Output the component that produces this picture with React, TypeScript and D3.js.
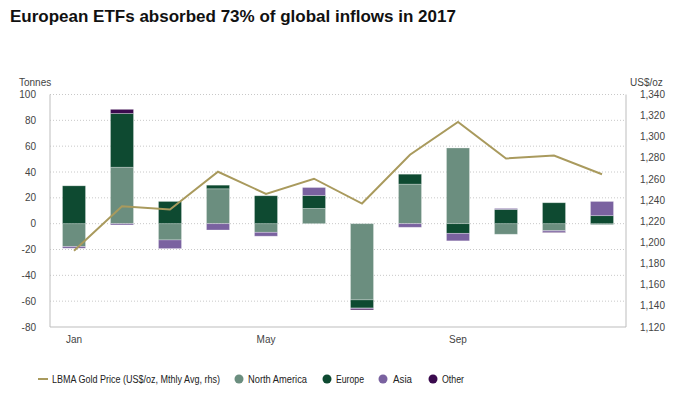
import React from "react";
import * as d3 from "d3";

const months = ["Jan", "Feb", "Mar", "Apr", "May", "Jun", "Jul", "Aug", "Sep", "Oct", "Nov", "Dec"];
const monthLabels = ["Jan", "May", "Sep"];
const northAmerica = [-17.7, 43.7, -12.6, 27, -6.7, 11.8, -59, 30.6, 58.6, -8.2, -5.4, -0.8];
const europe = [29.3, 41.6, 17.2, 2.8, 21.6, 10, -6.3, 7.7, -7.5, 11, 16.2, 6.2];
const asia = [-1.3, -1, -6.7, -4.9, -3, 6.2, -0.7, -2.8, -5.8, 0.8, -1.2, 11];
const other = [0, 3.2, 0, 0, 0, 0, -0.8, 0, 0, 0, -0.3, 0];
const goldPrice = [1192.1, 1234.2, 1231.1, 1266.9, 1246.0, 1260.3, 1236.8, 1283.0, 1314.1, 1279.5, 1282.3, 1264.5];
const leftTicks = [100, 80, 60, 40, 20, 0, -20, -40, -60, -80];
const rightTicks = [1340, 1320, 1300, 1280, 1260, 1240, 1220, 1200, 1180, 1160, 1140, 1120];

const seriesKeys = ["North America", "Europe", "Asia", "Other"];
const colors: Record<string, string> = {
  "North America": "#6b8e7f",
  Europe: "#0e4a31",
  Asia: "#7a62a0",
  Other: "#3b0a4e",
};
const lineColor = "#a99a5d";
const font = "'Liberation Sans', Arial, Helvetica, sans-serif";

export default function App() {
  const W = 674, H = 393;
  const left = 50, right = 626, top = 94.5, bottom = 327;

  const x = d3.scaleBand<string>().domain(months).range([left, right]).paddingInner(0.52).paddingOuter(0.26);
  const y = d3.scaleLinear().domain([-80, 100]).range([bottom, top]);
  const y2 = d3.scaleLinear().domain([1120, 1340]).range([bottom, top]);

  const table = months.map((m, i) => ({
    month: m,
    "North America": northAmerica[i],
    Europe: europe[i],
    Asia: asia[i],
    Other: other[i],
  }));
  const stacked = d3.stack<any>().keys(seriesKeys).offset(d3.stackOffsetDiverging)(table);

  const line = d3
    .line<number>()
    .x((_, i) => (x(months[i]) as number) + x.bandwidth() / 2)
    .y((d) => y2(d));

  const legendItems = [
    { label: "North America", cx: 239, tx: 248, w: 59 },
    { label: "Europe", cx: 327, tx: 336, w: 28 },
    { label: "Asia", cx: 383, tx: 393, w: 19 },
    { label: "Other", cx: 433, tx: 442, w: 22 },
  ];

  return (
    <>
      <style>{"body{margin:0}"}</style>
      <svg width={W} height={H} style={{ display: "block", background: "#fff" }} fontFamily={font}>
        <text x={10} y={22} fontSize={17} fontWeight="bold" fill="#111">
          European ETFs absorbed 73% of global inflows in 2017
        </text>

        {/* gridlines */}
        {leftTicks.slice(0, -1).map((t) => (
          <line key={t} x1={left} x2={right} y1={y(t)} y2={y(t)} stroke="#c8c8c8" strokeWidth={1} strokeDasharray="1,2" />
        ))}

        {/* bars */}
        {stacked.map((s) => (
          <g key={s.key} fill={colors[s.key]}>
            {s.map((d, i) => {
              const y0 = y(d[0]), y1 = y(d[1]);
              const h = Math.abs(y0 - y1);
              if (h < 0.01) return null;
              return (
                <rect
                  key={i}
                  x={x(months[i])}
                  width={x.bandwidth()}
                  y={Math.min(y0, y1)}
                  height={h}
                  stroke="rgba(255,255,255,0.35)"
                  strokeWidth={0.8}
                />
              );
            })}
          </g>
        ))}

        {/* frame */}
        <line x1={left} x2={left} y1={top} y2={bottom} stroke="#bdbdbd" />
        <line x1={right} x2={right} y1={top} y2={bottom} stroke="#bdbdbd" />
        <line x1={left} x2={right} y1={bottom} y2={bottom} stroke="#bdbdbd" />

        {/* gold line */}
        <path d={line(goldPrice) as string} fill="none" stroke={lineColor} strokeWidth={2} />

        {/* left axis */}
        <text x={19} y={86} fontSize={10} fill="#444">Tonnes</text>
        {leftTicks.map((t) => (
          <text key={t} x={36} y={y(t) + 3.5} fontSize={10} fill="#444" textAnchor="end">
            {t}
          </text>
        ))}

        {/* right axis */}
        <text x={630} y={86} fontSize={10} fill="#444">US$/oz</text>
        {rightTicks.map((t) => (
          <text key={t} x={665} y={y2(t) + 3.5} fontSize={10} fill="#444" textAnchor="end">
            {d3.format(",")(t)}
          </text>
        ))}

        {/* x labels */}
        {monthLabels.map((m) => (
          <text key={m} x={(x(m) as number) + x.bandwidth() / 2} y={343} fontSize={10} fill="#444" textAnchor="middle">
            {m}
          </text>
        ))}

        {/* legend */}
        <line x1={38} x2={48} y1={379} y2={379} stroke={lineColor} strokeWidth={2} />
        <text x={52} y={382.5} fontSize={10} fill="#222" textLength={168} lengthAdjust="spacingAndGlyphs">
          LBMA Gold Price (US$/oz, Mthly Avg, rhs)
        </text>
        {legendItems.map((l) => (
          <g key={l.label}>
            <circle cx={l.cx} cy={379} r={4.5} fill={colors[l.label]} />
            <text x={l.tx} y={382.5} fontSize={10} fill="#222" textLength={l.w} lengthAdjust="spacingAndGlyphs">
              {l.label}
            </text>
          </g>
        ))}
      </svg>
    </>
  );
}
